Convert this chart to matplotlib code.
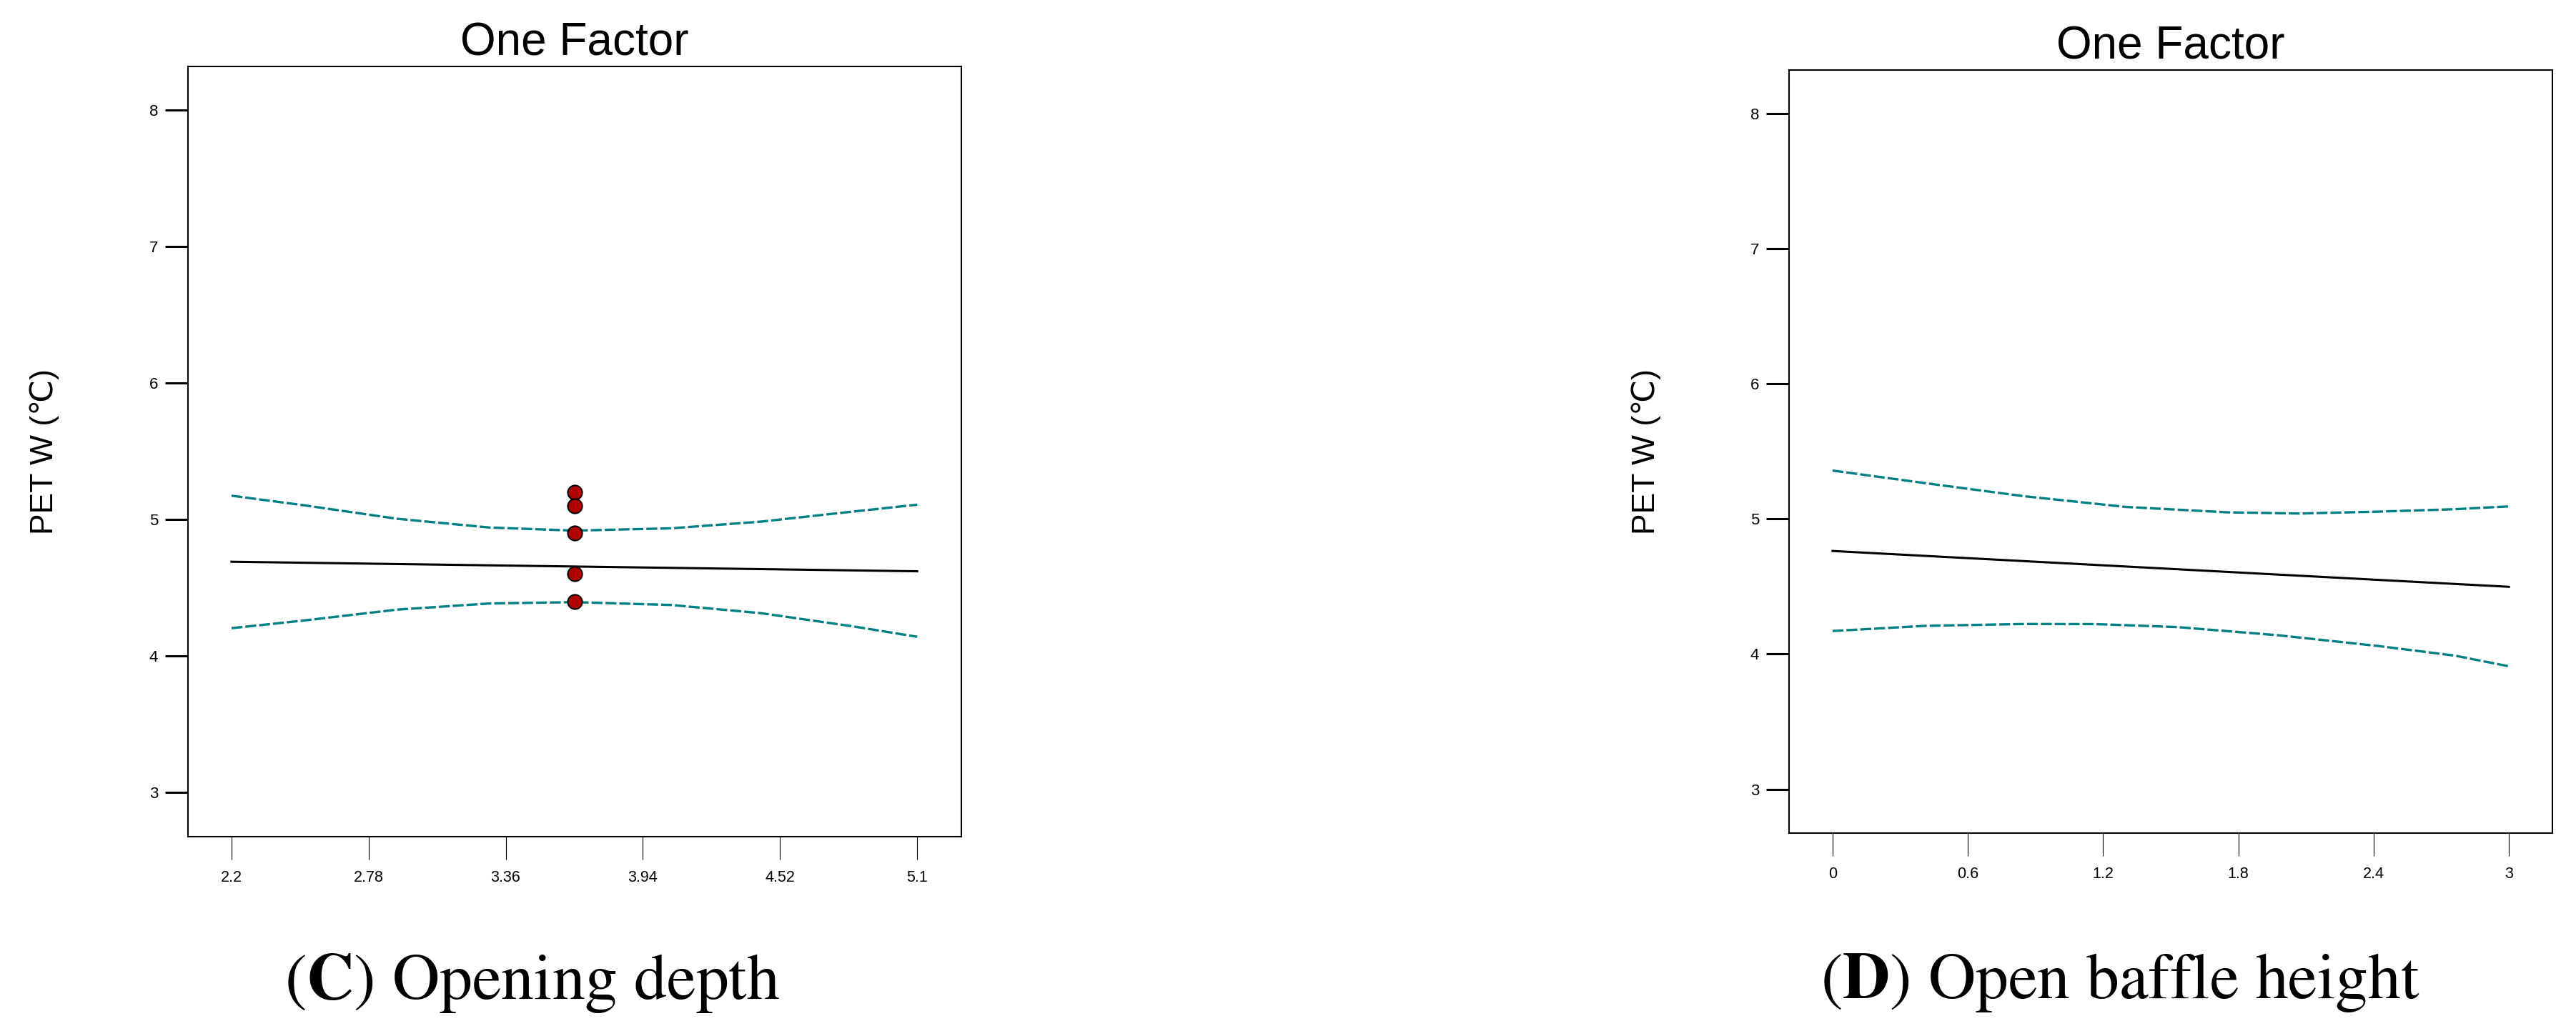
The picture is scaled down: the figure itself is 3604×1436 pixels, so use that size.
import matplotlib
matplotlib.use('Agg')
import matplotlib.pyplot as plt

plt.rcParams['font.family'] = ['Liberation Sans', 'DejaVu Sans']
plt.rcParams['lines.scale_dashes'] = False
plt.rcParams['mathtext.fontset'] = 'stix'

# (C) opening depth
depth_ticks = [2.2, 2.78, 3.36, 3.94, 4.52, 5.1]
depth_tick_labels = ['2.2', '2.78', '3.36', '3.94', '4.52', '5.1']
depth_fit_x = [2.2, 5.1]
depth_fit = [4.69, 4.62]
depth_ci_x = [2.2, 2.51, 2.9, 3.29, 3.65, 4.06, 4.44, 4.83, 5.1]
depth_upper = [5.174, 5.103, 5.005, 4.941, 4.918, 4.935, 4.984, 5.058, 5.108]
depth_lower = [4.203, 4.260, 4.339, 4.384, 4.394, 4.373, 4.313, 4.216, 4.140]
depth_pts_x = [3.65, 3.65, 3.65, 3.65, 3.65]
depth_pts = [5.2, 5.1, 4.9, 4.6, 4.4]

# (D) open baffle height
baffle_ticks = [0, 0.6, 1.2, 1.8, 2.4, 3]
baffle_tick_labels = ['0', '0.6', '1.2', '1.8', '2.4', '3']
baffle_fit_x = [0, 3]
baffle_fit = [4.762, 4.497]
baffle_up_x = [0, 0.41, 0.85, 1.3, 1.75, 2.07, 2.42, 2.76, 3.0]
baffle_upper = [5.357, 5.264, 5.167, 5.088, 5.048, 5.039, 5.053, 5.071, 5.092]
baffle_lo_x = [0, 0.41, 0.85, 1.17, 1.53, 1.98, 2.42, 2.76, 3.0]
baffle_lower = [4.170, 4.208, 4.222, 4.221, 4.199, 4.138, 4.059, 3.988, 3.909]

y_ticks = [3, 4, 5, 6, 7, 8]

W, H = 3605, 1436
fig = plt.figure(figsize=(W / 100, H / 100), dpi=100)

axC = fig.add_axes([263 / W, 1 - 1171 / H, (1345 - 263) / W, (1171 - 93) / H])
axD = fig.add_axes([2503 / W, 1 - 1166 / H, (3571 - 2503) / W, (1166 - 98) / H])

teal = '#008080'


def style_axes(ax, xlim, ticks, labels, label_x):
    ax.set_xlim(*xlim)
    ax.set_ylim(2.675, 8.32)
    ax.set_xticks(ticks)
    ax.set_xticklabels(labels)
    ax.set_yticks(y_ticks)
    ax.set_yticklabels([str(v) for v in y_ticks])
    ax.tick_params(axis='x', direction='out', length=23, width=0.8, pad=11, labelsize=15.5)
    ax.tick_params(axis='y', direction='out', length=23, width=2.2, pad=7, labelsize=16)
    for s in ax.spines.values():
        s.set_linewidth(1.5)
    ax.set_title('One Factor', fontsize=46, pad=11)
    ax.set_ylabel('PET W (℃)', fontsize=32)
    ax.yaxis.set_label_coords(label_x, 0.5)


# left panel
axC.plot(depth_fit_x, depth_fit, color='black', lw=2.2)
axC.plot(depth_ci_x, depth_upper, color=teal, lw=2.4, dashes=(11, 3))
axC.plot(depth_ci_x, depth_lower, color=teal, lw=2.4, dashes=(11, 3))
axC.plot(depth_pts_x, depth_pts, 'o', ms=14.5, mfc='#B00000', mec='black', mew=1.5)
style_axes(axC, (2.016, 5.287), depth_ticks, depth_tick_labels, -0.166)

# right panel
axD.plot(baffle_fit_x, baffle_fit, color='black', lw=2.2)
axD.plot(baffle_up_x, baffle_upper, color=teal, lw=2.4, dashes=(11, 3))
axD.plot(baffle_lo_x, baffle_lower, color=teal, lw=2.4, dashes=(11, 3))
style_axes(axD, (-0.193, 3.193), baffle_ticks, baffle_tick_labels, -0.168)

fig.text(744 / W, 1 - 1398 / H, r'($\mathbf{C}$) Opening depth', fontsize=66,
         family='STIXGeneral', ha='center', va='baseline')
fig.text(2967 / W, 1 - 1397 / H, r'($\mathbf{D}$) Open baffle height', fontsize=66,
         family='STIXGeneral', ha='center', va='baseline')

fig.savefig('out.png', dpi=100)
